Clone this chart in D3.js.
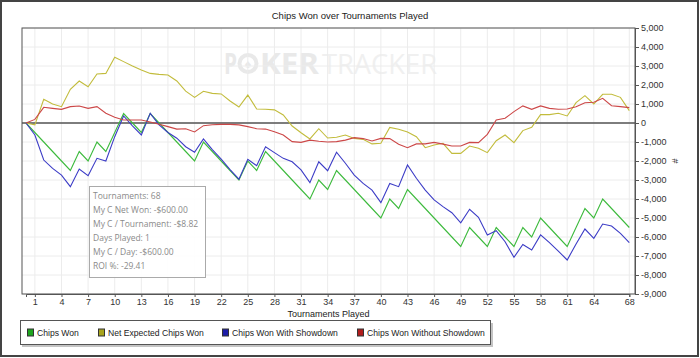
<!DOCTYPE html>
<html>
<head>
<meta charset="utf-8">
<script src="https://cdn.jsdelivr.net/npm/d3@7"></script>
<style>
  body { margin: 0; background: #fff; }
  svg { display: block; font-family: "Liberation Sans", Arial, sans-serif; }
</style>
</head>
<body>
<svg id="chart" width="700" height="358"></svg>
<script>
// tournaments 0..68 (0 is the starting point)
const tournaments = d3.range(0, 69);

const chipsWon = [0, -500, -1000, -1500, -2000, -2500, -1500, -2000, -1000, -1500,
    -500, 500, 0, -500, 500, 0, -500, -1000, -1500, -2000,
    -1000, -1500, -2000, -2500, -3000, -2000, -2500, -1500, -2000, -2500,
    -3000, -3500, -4000, -3000, -3500, -2500, -3000, -3500, -4000, -4500,
    -5000, -4000, -4500, -3500, -4000, -4500, -5000, -5500, -6000, -6500,
    -5500, -6000, -6500, -5500, -6000, -6500, -5500, -6000, -5000, -5500,
    -6000, -6500, -5500, -4500, -5000, -4000, -4500, -5000, -5500];

const netExpected = [0, -100, 1250, 1000, 860, 1770, 2210, 1910, 2580, 2610,
    3460, 3230, 3000, 2790, 2610, 2560, 2530, 2210, 1680, 1350,
    1670, 1560, 1530, 1160, 840, 1470, 740, 720, 690, 420,
    -160, -510, -840, -300, -790, -750, -630, -810, -860, -1100,
    -1070, -230, -330, -470, -720, -1300, -1160, -1070, -1600, -1600,
    -1210, -1330, -1560, -930, -630, -1035, -400, -230, 440, 440,
    510, 370, 1070, 1440, 1000, 1510, 1510, 1350, 650];

const withShowdown = [0, -630, -1950, -2390, -2740, -3350, -2420, -2770, -1860, -2000,
    -720, 370, -150, -630, 510, -100, -500, -800, -1250, -1540,
    -840, -1400, -1900, -2450, -2960, -1910, -2250, -1250, -1560, -1860,
    -2040, -2470, -3140, -2040, -2510, -1540, -2120, -2740, -3180, -3530,
    -4190, -3180, -3350, -2210, -2910, -3530, -4050, -4400, -4720, -5250,
    -4540, -4960, -5900, -5670, -6250, -7070, -6390, -6680, -5890, -6300,
    -6740, -7210, -6370, -5580, -6070, -5320, -5420, -5810, -6300];

const withoutShowdown = [0, 190, 825, 770, 720, 860, 895, 770, 860, 510,
    300, 160, 160, 160, 50, -70, -190, -320, -300, -470,
    -140, -90, -70, -70, -100, -190, -300, -320, -460, -630,
    -980, -1020, -900, -960, -1000, -980, -900, -770, -820, -950,
    -810, -820, -1120, -1300, -1100, -1100, -1020, -1110, -1210, -1210,
    -1020, -1035, -600, 160, 250, 600, 900, 720, 900, 770,
    720, 740, 860, 1070, 1090, 1300, 910, 860, 810];

const seriesNames = ['Chips Won', 'Net Expected Chips Won', 'Chips Won With Showdown', 'Chips Won Without Showdown'];
const xTicks = [1, 4, 7, 10, 13, 16, 19, 22, 25, 28, 31, 34, 37, 40, 43, 46, 49, 52, 55, 58, 61, 64, 68];
const yTicks = d3.range(-9000, 5001, 1000);
const infoLines = ['Tournaments: 68', 'My C Net Won: -$600.00', 'My C / Tournament: -$8.82',
    'Days Played: 1', 'My C / Day: -$600.00', 'ROI %: -29.41'];

const lineColors = ['#3dba3d', '#c2bc3c', '#3c3cc6', '#cc4747'];
const legendColors = ['#1fa51f', '#a8a41c', '#1c1ca8', '#b01c1c'];

const svg = d3.select('#chart');
const plot = { left: 22, top: 28, right: 635, bottom: 294 };

const x = d3.scaleLinear().domain([0, 68]).range([26, 629.3]);
const y = d3.scaleLinear().domain([-9000, 5000]).range([plot.bottom, plot.top]);

const locale = d3.formatLocale({ decimal: '.', thousands: ',', grouping: [3], currency: ['$', ''], minus: '-' });
const fmt = locale.format(',');

// outer frame
svg.append('rect')
    .attr('x', 1).attr('y', 1).attr('width', 697).attr('height', 355)
    .attr('fill', '#fff').attr('stroke', '#444').attr('stroke-width', 2);

svg.append('text')
    .attr('x', 350).attr('y', 19)
    .attr('text-anchor', 'middle')
    .attr('font-size', 9.5).attr('fill', '#222')
    .text('Chips Won over Tournaments Played');

// watermark
const wm = svg.append('g').attr('font-family', '"Open Sans", sans-serif').attr('font-size', 28);
wm.append('text').attr('x', 224).attr('y', 74).attr('font-weight', 'bold').attr('fill', '#e9e9e9')
    .attr('textLength', 13).attr('lengthAdjust', 'spacingAndGlyphs').text('P');
wm.append('circle').attr('cx', 248).attr('cy', 63.5).attr('r', 10.5).attr('fill', '#e9e9e9');
wm.append('circle').attr('cx', 248).attr('cy', 63.5).attr('r', 6.5).attr('fill', '#fff');
wm.append('text').attr('x', 248).attr('y', 68).attr('text-anchor', 'middle').attr('font-size', 12)
    .attr('fill', '#e9e9e9').text('\u2660');
wm.append('text').attr('x', 260).attr('y', 74).attr('font-weight', 'bold').attr('fill', '#e9e9e9')
    .attr('textLength', 59).attr('lengthAdjust', 'spacingAndGlyphs').text('KER');
wm.append('text').attr('x', 322).attr('y', 74).attr('fill', '#f0f0f0')
    .attr('textLength', 115).attr('lengthAdjust', 'spacingAndGlyphs').text('TRACKER');

// grid
svg.append('g').selectAll('line')
    .data(xTicks).join('line')
    .attr('x1', d => x(d)).attr('x2', d => x(d))
    .attr('y1', plot.top).attr('y2', plot.bottom)
    .attr('stroke', '#ececec');
svg.append('g').selectAll('line')
    .data(yTicks).join('line')
    .attr('x1', plot.left).attr('x2', plot.right)
    .attr('y1', d => y(d)).attr('y2', d => y(d))
    .attr('stroke', '#ececec');

// plot frame
svg.append('rect')
    .attr('x', plot.left).attr('y', plot.top)
    .attr('width', plot.right - plot.left).attr('height', plot.bottom - plot.top)
    .attr('fill', 'none').attr('stroke', '#555');

// zero line
svg.append('line')
    .attr('x1', plot.left).attr('x2', plot.right)
    .attr('y1', y(0)).attr('y2', y(0))
    .attr('stroke', '#555').attr('stroke-width', 1.5);

// axes
const yAxis = svg.append('g')
    .attr('transform', `translate(${plot.right},0)`)
    .call(d3.axisRight(y).tickValues(yTicks).tickSize(4).tickPadding(2).tickFormat(fmt));
const xAxis = svg.append('g')
    .attr('transform', `translate(0,${plot.bottom})`)
    .call(d3.axisBottom(x).tickValues(xTicks).tickSize(3).tickPadding(2));
[yAxis, xAxis].forEach(a => {
    a.attr('font-family', '"Liberation Sans", Arial, sans-serif').attr('font-size', 9);
    a.selectAll('text').attr('fill', '#333');
    a.selectAll('line').attr('stroke', '#555');
    a.select('.domain').attr('stroke', '#555');
});

svg.append('text')
    .attr('x', (plot.left + plot.right) / 2).attr('y', 317)
    .attr('text-anchor', 'middle').attr('font-size', 9).attr('fill', '#222')
    .text('Tournaments Played');
svg.append('text')
    .attr('transform', `translate(672,${(plot.top + plot.bottom) / 2}) rotate(90)`)
    .attr('text-anchor', 'middle').attr('font-size', 9).attr('fill', '#333')
    .text('#');

// series
const series = [chipsWon, netExpected, withShowdown, withoutShowdown];
const line = d3.line().x((d, i) => x(tournaments[i])).y(d => y(d));
svg.append('g').selectAll('path')
    .data(series).join('path')
    .attr('d', line)
    .attr('fill', 'none')
    .attr('stroke', (d, i) => lineColors[i])
    .attr('stroke-width', 1.1);

// info box
const info = svg.append('g');
info.append('rect')
    .attr('x', 89.5).attr('y', 186.5).attr('width', 116).attr('height', 91)
    .attr('fill', '#fff').attr('fill-opacity', 0.9).attr('stroke', '#aaa');
info.selectAll('text')
    .data(infoLines).join('text')
    .attr('x', 93).attr('y', (d, i) => 199 + i * 14)
    .attr('font-family', '"Open Sans", "Noto Sans", sans-serif')
    .attr('font-size', 8.5).attr('fill', '#8a8a8a')
    .text(d => d);

// legend
const legendX = [27, 98, 222, 357];
const legend = svg.append('g');
legend.append('rect')
    .attr('x', 22).attr('y', 323).attr('width', 471).attr('height', 24)
    .attr('fill', '#c4c4c4');
legend.append('rect')
    .attr('x', 20.5).attr('y', 320.5).attr('width', 470).attr('height', 24)
    .attr('fill', '#fff').attr('stroke', '#555');
const items = legend.selectAll('g.item')
    .data(seriesNames).join('g')
    .attr('class', 'item')
    .attr('transform', (d, i) => `translate(${legendX[i]},332.5)`);
items.append('rect')
    .attr('x', 0.5).attr('y', -3.5).attr('width', 6).attr('height', 7)
    .attr('fill', (d, i) => legendColors[i]).attr('stroke', '#333');
items.append('text')
    .attr('x', 10).attr('y', 3.2)
    .attr('font-size', 8.6).attr('fill', '#222')
    .text(d => d);
</script>
</body>
</html>
